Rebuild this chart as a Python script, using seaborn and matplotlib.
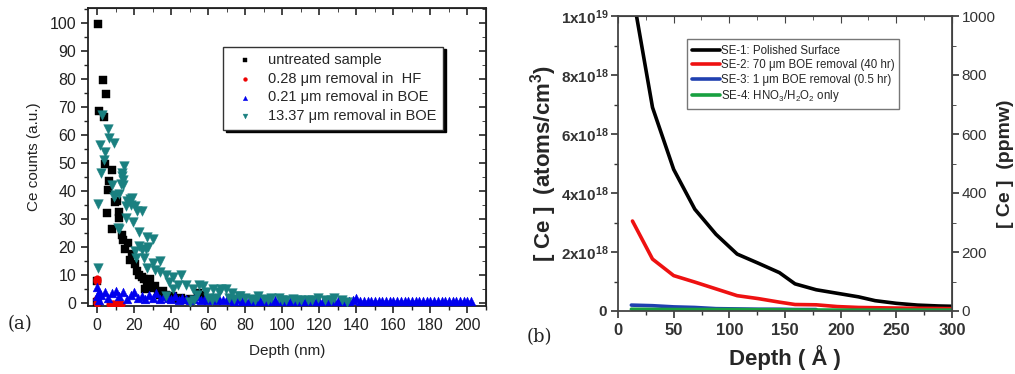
import numpy as np
import pandas as pd
import matplotlib
matplotlib.use("Agg")
import matplotlib.pyplot as plt
from matplotlib.ticker import MultipleLocator, FixedLocator, FuncFormatter
import seaborn as sns

sns.set_style("ticks")
plt.rcParams['font.family'] = ['Liberation Sans', 'DejaVu Sans']
plt.rcParams['mathtext.fontset'] = 'custom'
plt.rcParams['mathtext.rm'] = 'Liberation Sans'
plt.rcParams['mathtext.bf'] = 'Liberation Sans:bold'
plt.rcParams['mathtext.default'] = 'regular'

# ---------------- panel (a) data ----------------
untreated_x = [0.5, 2.9, 4.8, 1.2, 3.4, 0.0, 0.0, 4.1, 7.7, 6.6, 6.0, 9.7, 5.5, 11.8, 8.0, 13.3,
               10.5, 12.0, 14.0, 16.5, 15.0, 17.7, 19.0, 20.4, 21.5, 22.6, 24.0, 25.3, 25.8, 27.0,
               28.5, 29.5, 31.0, 32.6, 34.0, 35.5, 37.4, 39.0, 40.9, 43.0, 45.0, 47.0, 50.0, 54.5,
               57.2, 60.0]
untreated_y = [99.5, 79.5, 74.5, 68.5, 66.5, 8.0, 0.3, 49.5, 47.5, 43.5, 40.5, 36.0, 32.0, 30.5,
               26.5, 24.5, 36.5, 32.5, 22.5, 21.5, 19.5, 15.5, 17.5, 14.0, 11.5, 10.0, 9.5, 8.5,
               5.0, 6.5, 8.5, 5.5, 6.0, 4.0, 3.0, 4.5, 3.0, 2.0, 2.5, 1.5, 2.0, 1.3, 1.5, 3.8,
               3.0, 1.5]

hf_x = [0.0, 0.0, 0.0, 0.0, 7.0, 8.0, 9.0, 10.0, 11.0, 12.0, 13.0]
hf_y = [8.8, 7.8, 1.5, 0.0, -0.3, -0.3, -0.3, -0.3, -0.3, -0.3, -0.3]

boe021_x = [0, 0, 1, 1, 2, 4, 6, 8, 10, 12, 14, 16, 18, 20, 22, 24, 26, 28, 30, 32, 34, 36, 38,
            40, 42, 44, 46, 48, 50, 52, 54, 56, 58, 60, 62, 64, 66, 68, 70, 72, 74, 76, 78, 80,
            82, 84, 86, 88, 90, 92, 94, 96, 98, 100, 102, 104, 106, 108, 110, 112, 114, 116,
            118, 120, 122, 124, 126, 128, 130, 132, 134, 136, 138, 140, 142, 144, 146, 148,
            150, 152, 154, 156, 158, 160, 162, 164, 166, 168, 170, 172, 174, 176, 178, 180,
            182, 184, 186, 188, 190, 192, 194, 196, 198, 200, 202]
boe021_y = [5.8, 2.5, 4.0, 1.2, 2.8, 4.0, 2.0, 3.5, 4.5, 2.5, 4.0, 1.5, 3.0, 4.0, 2.0, 2.5, 1.5,
            3.0, 2.0, 3.5, 1.5, 2.5, 2.0, 1.5, 2.5, 1.0, 2.0, 1.5, 1.0, 1.5, 2.5, 1.0, 2.0, 1.2,
            1.5, 1.0, 1.6, 1.0, 1.4, 1.2, 0.8, 1.4, 0.9, 1.2, 0.8, 1.1, 0.9, 1.2, 0.8, 1.0, 0.9,
            1.1, 0.7, 1.0, 0.9, 0.8, 1.0, 0.7, 0.9, 0.8, 1.0, 0.7, 0.9, 0.8, 0.9, 0.7, 1.0, 0.8,
            0.9, 0.7, 0.9, 0.8, 1.0, 1.8, 0.9, 0.8, 0.7, 0.9, 0.8, 0.7, 0.9, 0.8, 0.7, 0.9, 0.8,
            0.7, 0.9, 0.8, 0.7, 0.9, 0.8, 0.7, 0.9, 0.8, 0.7, 0.9, 0.8, 0.7, 0.9, 0.8, 0.7, 0.9,
            0.8, 0.9, 0.8]

boe1337_x = [2.5, 6.0, 6.5, 1.6, 9.1, 4.3, 3.8, 2.0, 14.5, 13.5, 14.0, 13.7, 7.9, 9.7, 18.6,
             0.4, 12.7, 12.0, 16.3, 21.3, 24.3, 20.3, 18.0, 19.5, 15.6, 11.5, 22.7, 26.7, 30.0,
             20.4, 24.0, 27.5, 21.0, 25.5, 30.3, 33.8, 26.7, 31.2, 33.8, 37.4, 41.0, 45.5, 39.0,
             43.5, 48.0, 51.6, 55.2, 58.8, 62.4, 66.0, 69.5, 73.0, 76.7, 0.2, 50.0, 37.4, 41.0,
             57.0, 67.0, 77.0, 80.0, 83.0, 87.0, 90.0, 94.0, 98.0, 102.0, 106.0, 110.0, 114.0,
             119.0, 123.0, 128.0, 132.0, 135.0, 52.0, 54.0, 60.0, 62.0, 11.0, 22.3, 26.5, 9.3,
             17.8, 15.5, 13.3, 64.0, 71.0, 74.0, 85.0, 92.0, 100.0, 108.0, 116.0, 126.0]
boe1337_y = [67.0, 62.0, 59.0, 56.5, 57.0, 54.0, 51.0, 46.5, 49.0, 46.5, 44.0, 42.0, 42.0, 38.5,
             37.5, 35.5, 42.5, 39.0, 36.5, 33.0, 33.0, 34.5, 35.0, 29.0, 30.5, 26.5, 25.5, 23.5,
             23.0, 18.5, 19.0, 20.0, 16.0, 16.0, 14.5, 15.0, 12.5, 12.0, 11.0, 10.0, 9.5, 10.0,
             7.5, 6.5, 6.5, 5.0, 6.5, 4.0, 5.0, 4.0, 5.0, 3.5, 2.5, 12.5, 0.3, 2.5, 5.0, 6.0,
             5.0, 2.5, 2.0, 1.5, 2.5, 1.5, 2.0, 2.0, 1.0, 1.5, 1.0, 1.0, 2.0, 1.0, 2.0, 1.0, 0.5,
             1.0, 3.0, 2.0, 1.0, 27.0, 20.5, 19.5, 38.0, 37.0, 34.5, 45.5, 2.0, 2.0, 1.5, 1.0,
             1.0, 1.0, 1.0, 1.0, 1.0]

labels_a = ["untreated sample", "0.28 \u03bcm removal in  HF",
            "0.21 \u03bcm removal in BOE", "13.37 \u03bcm removal in BOE"]
colors_a = ["black", "#ee0000", "#0000ee", "#1a8080"]
markers_a = ["s", "o", "^", "v"]

df_a = pd.concat([
    pd.DataFrame({"depth": untreated_x, "counts": untreated_y, "sample": labels_a[0]}),
    pd.DataFrame({"depth": hf_x, "counts": hf_y, "sample": labels_a[1]}),
    pd.DataFrame({"depth": boe021_x, "counts": boe021_y, "sample": labels_a[2]}),
    pd.DataFrame({"depth": boe1337_x, "counts": boe1337_y, "sample": labels_a[3]}),
], ignore_index=True)

# ---------------- panel (b) data ----------------
se1_x = [12, 31, 50, 69, 88, 107, 126, 145, 159, 178, 197, 216, 231, 250, 269, 288, 300]
se1_y = [1.10e19, 6.9e18, 4.8e18, 3.45e18, 2.6e18, 1.93e18, 1.62e18, 1.3e18, 0.92e18,
         0.72e18, 0.6e18, 0.48e18, 0.35e18, 0.26e18, 0.2e18, 0.17e18, 0.16e18]
se2_x = [13, 31, 50, 69, 88, 107, 126, 145, 159, 178, 197, 216, 250, 300]
se2_y = [3.05e18, 1.76e18, 1.2e18, 0.98e18, 0.75e18, 0.52e18, 0.42e18, 0.3e18, 0.22e18,
         0.21e18, 0.15e18, 0.12e18, 0.1e18, 0.08e18]
se3_x = [12, 31, 50, 69, 88, 107, 126, 145, 159, 178]
se3_y = [0.2e18, 0.18e18, 0.14e18, 0.12e18, 0.08e18, 0.07e18, 0.06e18, 0.06e18, 0.05e18, 0.05e18]
se4_x = [12, 50, 100, 150, 200, 250, 300]
se4_y = [0.06e18, 0.05e18, 0.05e18, 0.04e18, 0.03e18, 0.03e18, 0.03e18]

labels_b = ["SE-1: Polished Surface", "SE-2: 70 \u03bcm BOE removal (40 hr)",
            "SE-3: 1 \u03bcm BOE removal (0.5 hr)", "SE-4: HNO$_3$/H$_2$O$_2$ only"]
colors_b = ["black", "#ee1111", "#2040b0", "#18a040"]
ppmw_ticks = [0, 200, 400, 600, 800, 1000]

df_b = pd.concat([
    pd.DataFrame({"depth": se1_x, "ce": se1_y, "sample": labels_b[0]}),
    pd.DataFrame({"depth": se2_x, "ce": se2_y, "sample": labels_b[1]}),
    pd.DataFrame({"depth": se3_x, "ce": se3_y, "sample": labels_b[2]}),
    pd.DataFrame({"depth": se4_x, "ce": se4_y, "sample": labels_b[3]}),
], ignore_index=True)

# ---------------- figure ----------------
fig = plt.figure(figsize=(10.15, 3.74), dpi=100)
ax1 = fig.add_axes([88 / 1015, 1 - 306 / 374, (486 - 88) / 1015, (306 - 8) / 374])
ax2 = fig.add_axes([618 / 1015, 1 - 311 / 374, (952 - 618) / 1015, (311 - 16) / 374])

# panel (a)
sizes = {labels_a[0]: 30, labels_a[1]: 30, labels_a[2]: 40, labels_a[3]: 48}
for lab, col, mk in zip(labels_a, colors_a, markers_a):
    sub = df_a[df_a["sample"] == lab]
    sns.scatterplot(data=sub, x="depth", y="counts", ax=ax1, color=col, marker=mk,
                    s=sizes[lab], edgecolor=col, linewidth=0.3, label=lab, zorder=3)
ax1.set_xlim(-5, 210)
ax1.set_ylim(-1, 105.3)
ax1.xaxis.set_major_locator(MultipleLocator(20))
ax1.xaxis.set_minor_locator(MultipleLocator(10))
ax1.yaxis.set_major_locator(MultipleLocator(10))
ax1.yaxis.set_minor_locator(MultipleLocator(5))
ax1.tick_params(which="major", direction="out", length=5, width=1.2, labelsize=11.5,
                colors="#222222")
ax1.tick_params(which="minor", direction="out", length=3, width=1.0, colors="#222222")
for sp in ax1.spines.values():
    sp.set_visible(True)
    sp.set_linewidth(1.3)
    sp.set_color("#222222")
secx = ax1.secondary_xaxis("top")
secx.xaxis.set_major_locator(MultipleLocator(20))
secx.xaxis.set_minor_locator(MultipleLocator(10))
secx.tick_params(which="both", direction="in", labeltop=False)
secx.tick_params(which="major", length=5, width=1.2)
secx.tick_params(which="minor", length=3)
secy = ax1.secondary_yaxis("right")
secy.yaxis.set_major_locator(MultipleLocator(10))
secy.yaxis.set_minor_locator(MultipleLocator(5))
secy.tick_params(which="both", direction="in", labelright=False)
secy.tick_params(which="major", length=5, width=1.2)
secy.tick_params(which="minor", length=3)
ax1.set_xlabel("Depth (nm)", fontsize=11, color="#222222", labelpad=8)
ax1.set_ylabel("Ce counts (a.u.)", fontsize=11, color="#222222", labelpad=6)
leg1 = ax1.legend(loc="upper left", bbox_to_anchor=(0.322, 0.895), frameon=True, fontsize=10.5,
                  markerscale=0.5, handletextpad=0.6, borderpad=0.45, labelspacing=0.32,
                  fancybox=False, shadow={"color": "black", "alpha": 1.0})
leg1.get_frame().set_edgecolor("#333333")
leg1.get_frame().set_linewidth(1.0)

# panel (b)
sns.lineplot(data=df_b, x="depth", y="ce", hue="sample", palette=colors_b, ax=ax2,
             linewidth=2.6, sort=False, estimator=None, legend=True)
ax2.set_xlim(0, 300)
ax2.set_ylim(0, 1e19)
ax2.xaxis.set_major_locator(MultipleLocator(50))
ax2.xaxis.set_minor_locator(MultipleLocator(25))
ax2.yaxis.set_major_locator(FixedLocator([0, 2e18, 4e18, 6e18, 8e18, 1e19]))
ax2.yaxis.set_minor_locator(FixedLocator([1e18, 3e18, 5e18, 7e18, 9e18]))


def sci_fmt(v, pos):
    if v == 0:
        return r"$\mathbf{0}$"
    e = int(np.floor(np.log10(v) + 1e-9))
    m = v / 10 ** e
    return r"$\mathbf{%dx10^{%d}}$" % (round(m), e)


ax2.yaxis.set_major_formatter(FuncFormatter(sci_fmt))
ax2.tick_params(which="major", direction="out", length=5, width=1.2, labelsize=12,
                colors="#333333")
ax2.tick_params(axis="y", which="major", labelsize=11, pad=2)
ax2.tick_params(which="minor", direction="out", length=3, width=1.0, colors="#333333")
for lab in ax2.get_xticklabels():
    lab.set_fontweight("bold")
for sp in ax2.spines.values():
    sp.set_visible(True)
    sp.set_linewidth(1.3)
    sp.set_color("#444444")
secx2 = ax2.secondary_xaxis("top")
secx2.xaxis.set_major_locator(MultipleLocator(50))
secx2.xaxis.set_minor_locator(MultipleLocator(25))
secx2.tick_params(which="both", direction="in", labeltop=False, colors="#444444")
secx2.tick_params(which="major", length=5)
secx2.tick_params(which="minor", length=3)
secy2 = ax2.secondary_yaxis("right", functions=(lambda v: v / 1e16, lambda p: p * 1e16))
secy2.yaxis.set_major_locator(FixedLocator(ppmw_ticks))
secy2.yaxis.set_minor_locator(FixedLocator([100, 300, 500, 700, 900]))
secy2.tick_params(which="major", direction="out", length=5, width=1.2, labelsize=11,
                  colors="#333333", pad=2)
secy2.tick_params(which="minor", direction="out", length=3, colors="#333333")
secy2.set_ylabel("[ Ce ]  (ppmw)", fontsize=14, fontweight="bold", labelpad=1)
ax2.set_xlabel("Depth ( \u00c5 )", fontsize=16, fontweight="bold", labelpad=5)
ax2.set_ylabel(r"[ Ce ]  (atoms/cm$^\mathbf{3}$)", fontsize=16, fontweight="bold")
ax2.yaxis.set_label_coords(-0.178, 0.5)
h, l = ax2.get_legend_handles_labels()
leg2 = ax2.legend(h, labels_b, loc="upper left", bbox_to_anchor=(0.19, 0.94), frameon=True,
                  fontsize=8.3, handlelength=2.4, handletextpad=0.05, borderpad=0.45,
                  labelspacing=0.22, fancybox=False)
leg2.get_frame().set_edgecolor("#555555")
leg2.get_frame().set_linewidth(1.0)
for line in leg2.get_lines():
    line.set_linewidth(2.6)

fig.text(0.008, 0.12, "(a)", fontsize=13, family="DejaVu Serif", color="#222222")
fig.text(0.519, 0.085, "(b)", fontsize=13, family="DejaVu Serif", color="#222222")

fig.savefig("out.png", dpi=100)
